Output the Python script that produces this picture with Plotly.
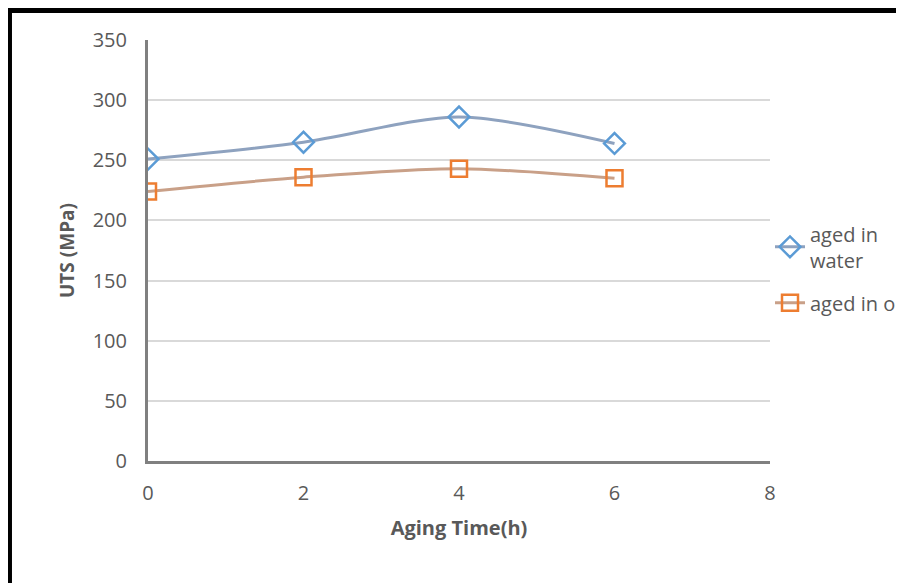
import plotly.graph_objects as go

aging_time = [0, 2, 4, 6]
uts_water = [251, 265, 286, 264]
uts_oil = [224, 236, 243, 235]
x_ticks = [0, 2, 4, 6, 8]
y_ticks = [0, 50, 100, 150, 200, 250, 300, 350]

fig = go.Figure()
fig.add_trace(go.Scatter(
    x=aging_time, y=uts_water, name="aged in<br>water", mode="lines+markers",
    legendgroup="water",
    line=dict(color="#8EA2BF", width=3, shape="spline", smoothing=0.8),
    marker=dict(symbol="diamond-open", size=16, color="#5B9BD5", line=dict(width=2.5, color="#5B9BD5")),
))
fig.add_trace(go.Scatter(
    x=aging_time, y=uts_oil, name="aged in oil", mode="lines+markers",
    legendgroup="oil",
    line=dict(color="#C9A088", width=3, shape="spline", smoothing=0.8),
    marker=dict(symbol="square-open", size=16, color="#ED7D31", line=dict(width=2.5, color="#ED7D31")),
))

font_family = "Open Sans, Liberation Sans, sans-serif"
# page body has an 8px default margin; margins put the plot area at the
# reference position in the window
fig.update_layout(
    width=904, height=583,
    margin=dict(l=140, r=142, t=32, b=130, autoexpand=False),
    plot_bgcolor="white", paper_bgcolor="white",
    font=dict(family=font_family, color="#595959", size=20),
    showlegend=True,
    legend=dict(x=1.0, y=0.586, xanchor="left", yanchor="top",
                font=dict(size=20, color="#595959"), tracegroupgap=14,
                bgcolor="rgba(0,0,0,0)"),
    xaxis=dict(range=[0, 8], tickvals=x_ticks, showgrid=False, zeroline=False,
               showline=True, linecolor="#808080", linewidth=3, automargin=False,
               ticks="", tickfont=dict(size=20, color="#595959"), ticklabelstandoff=12,
               title=dict(text="<b>Aging Time(h)</b>", font=dict(size=20, color="#595959"), standoff=16)),
    yaxis=dict(range=[0, 350], tickvals=y_ticks, showgrid=True, gridcolor="#D9D9D9", gridwidth=1.5,
               zeroline=False, showline=True, linecolor="#808080", linewidth=3, automargin=False,
               ticks="", tickfont=dict(size=20, color="#595959"), ticklabelstandoff=14,
               title=dict(text="<b>UTS (MPa)</b>", font=dict(size=19, color="#595959"), standoff=14)),
)

# outer black frame (only left and top edges are visible in the reference)
fig.add_shape(type="line", xref="paper", yref="paper",
              x0=-0.2227, x1=-0.2227, y0=-0.5, y1=1.0701,
              line=dict(color="black", width=5), layer="above")
fig.add_shape(type="line", xref="paper", yref="paper",
              x0=-0.2267, x1=1.3, y0=1.0701, y1=1.0701,
              line=dict(color="black", width=5), layer="above")

fig.write_html("out.html")
